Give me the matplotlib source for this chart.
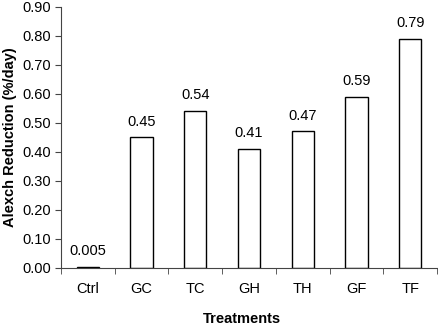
import numpy as np
import matplotlib
matplotlib.use("Agg")
import matplotlib.pyplot as plt

treatments = ["Ctrl", "GC", "TC", "GH", "TH", "GF", "TF"]
reduction = [0.005, 0.45, 0.54, 0.41, 0.47, 0.59, 0.79]
value_labels = ["0.005", "0.45", "0.54", "0.41", "0.47", "0.59", "0.79"]
yticks = [0.0, 0.1, 0.2, 0.3, 0.4, 0.5, 0.6, 0.7, 0.8, 0.9]

plt.rcParams['font.family'] = ['Liberation Sans', 'DejaVu Sans']
fs = 10.5

fig = plt.figure(figsize=(4.38, 3.28), dpi=100)
ax = fig.add_axes([0.139, 0.183, 0.859, 0.797])

x = np.arange(len(treatments))
ax.bar(x, reduction, width=0.41, color='white', edgecolor='black', linewidth=1.0)

for xi, v, lab in zip(x, reduction, value_labels):
    ax.text(xi, v + 0.03, lab, ha='center', va='bottom', fontsize=fs)

ax.set_xlim(-0.5, len(treatments) - 0.5)
ax.set_ylim(0, 0.9)
ax.set_yticks(yticks)
ax.set_yticklabels([f"{t:.2f}" for t in yticks], fontsize=fs)
ax.set_xticks(x)
ax.set_xticklabels(treatments, fontsize=fs)
ax.tick_params(axis='x', which='major', length=0, pad=10)
ax.set_xticks(np.arange(-0.5, len(treatments), 1.0), minor=True)
ax.tick_params(axis='x', which='minor', length=4, direction='out', color='#444444')
ax.tick_params(axis='y', length=4, direction='out', color='#444444', pad=3)

for side in ['top', 'right']:
    ax.spines[side].set_visible(False)
for side in ['left', 'bottom']:
    ax.spines[side].set_color('#444444')

ax.set_ylabel("Alexch Reduction (%/day)", fontsize=fs, fontweight='bold', labelpad=4)
ax.set_xlabel("Treatments", fontsize=fs, fontweight='bold')
ax.xaxis.set_label_coords(0.48, -0.17)

fig.savefig("out.png", dpi=100)
